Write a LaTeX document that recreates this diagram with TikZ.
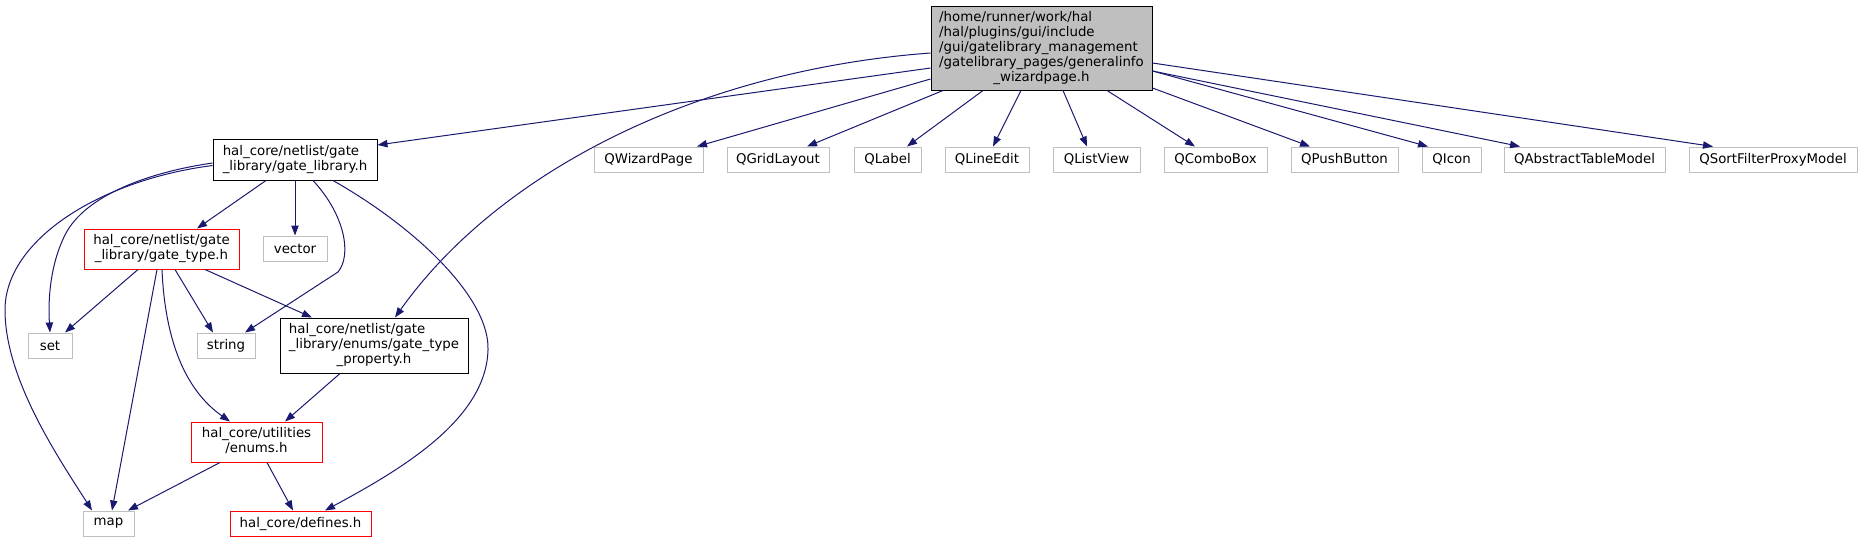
\documentclass[tikz,border=0pt]{standalone}
\usepackage{fontspec}
\setmainfont{DejaVu Sans}
\usetikzlibrary{arrows.meta,calc}

\definecolor{edgeblue}{HTML}{191970}
\definecolor{boxgray}{HTML}{BFBFBF}
\newcommand{\flines}[1]{\begin{tabular}{@{}l@{}}#1\end{tabular}}
\newcommand{\lastline}[1]{\multicolumn{1}{@{}c@{}}{#1}}

\tikzset{
  filebox/.style={draw=black, fill=white, line width=0.75pt, inner sep=0pt,
    font=\fontsize{10}{11.25}\selectfont},
  sysbox/.style={filebox, draw=boxgray},
  redbox/.style={filebox, draw=red},
  boxsize/.style 2 args={minimum width=#1*0.75pt, minimum height=#2*0.75pt},
  dep/.style={edgeblue, line width=0.75pt, -{Triangle[length=7.5pt,width=5.5pt]}}
}

\begin{document}
\begin{tikzpicture}[x=0.75pt, y=-0.75pt]
  \useasboundingbox (0,0) rectangle (1862,543);
  % draw the file boxes
  \node[filebox, fill=boxgray, boxsize={221}{84}] (main) at (1041.5,48) {\flines{/home/runner/work/hal\\/hal/plugins/gui/include\\/gui/gatelibrary\_management\\/gatelibrary\_pages/generalinfo\\\lastline{\_wizardpage.h}}};
  \node[filebox, boxsize={164}{41}] (glib) at (295,159.5) {\flines{hal\_core/netlist/gate\\\lastline{\_library/gate\_library.h}}};
  \node[redbox, boxsize={155}{40}] (gtype) at (161.5,249) {\flines{hal\_core/netlist/gate\\\lastline{\_library/gate\_type.h}}};
  \node[filebox, boxsize={188}{55}] (gtprop) at (374,345.5) {\flines{hal\_core/netlist/gate\\\_library/enums/gate\_type\\\lastline{\_property.h}}};
  \node[redbox, boxsize={131}{40}] (enums) at (256.5,442) {\flines{hal\_core/utilities\\\lastline{/enums.h}}};
  \node[redbox, boxsize={141}{25}] (defines) at (300.5,523.5) {hal\_core/defines.h};
  % draw the system headers
  \node[sysbox, boxsize={64}{25}] (vector) at (295,248.5) {vector};
  \node[sysbox, boxsize={44}{25}] (set) at (50,345.5) {set};
  \node[sysbox, boxsize={58}{25}] (string) at (226,345.5) {string};
  \node[sysbox, boxsize={51}{25}] (map) at (108.5,523.5) {map};
  % draw the Qt headers
  \node[sysbox, boxsize={109}{25}] (qwiz) at (648.5,159.5) {QWizardPage};
  \node[sysbox, boxsize={102}{25}] (qgrid) at (778,159.5) {QGridLayout};
  \node[sysbox, boxsize={67}{25}] (qlabel) at (887.5,159.5) {QLabel};
  \node[sysbox, boxsize={84}{25}] (qlineedit) at (987,159.5) {QLineEdit};
  \node[sysbox, boxsize={87}{25}] (qlistview) at (1096.5,159.5) {QListView};
  \node[sysbox, boxsize={103}{25}] (qcombo) at (1215.5,159.5) {QComboBox};
  \node[sysbox, boxsize={107}{25}] (qpush) at (1344.5,159.5) {QPushButton};
  \node[sysbox, boxsize={59}{25}] (qicon) at (1451.5,159.5) {QIcon};
  \node[sysbox, boxsize={161}{25}] (qatm) at (1584.5,159.5) {QAbstractTableModel};
  \node[sysbox, boxsize={168}{25}] (qsfpm) at (1773,159.5) {QSortFilterProxyModel};
  % draw the include edges of the wizard page
  \draw[dep] ($(main.west)+(0,20)$) -- ($(glib.east)+(0,-14.5)$);
  \draw[dep] ($(main.west)+(0,5)$) .. controls (700,70) and (500,170) .. ($(gtprop.north)+(21,0)$);
  \draw[dep] ($(main.west)+(0,31)$) -- ($(qwiz.north)+(48.5,0)$);
  \draw[dep] ($(main.south)+(-98.5,0)$) -- ($(qgrid.north)+(29,0)$);
  \draw[dep] ($(main.south)+(-58.5,0)$) -- ($(qlabel.north)+(19.5,0)$);
  \draw[dep] ($(main.south)+(-20.5,0)$) -- ($(qlineedit.north)+(6,0)$);
  \draw[dep] ($(main.south)+(21.5,0)$) -- ($(qlistview.north)+(-9.5,0)$);
  \draw[dep] ($(main.south)+(65.5,0)$) -- ($(qcombo.north)+(-20.5,0)$);
  \draw[dep] ($(main.east)+(0,40)$) -- ($(qpush.north)+(-34.5,0)$);
  \draw[dep] ($(main.east)+(0,23)$) -- ($(qicon.north)+(-23.5,0)$);
  \draw[dep] ($(main.east)+(0,23)$) -- ($(qatm.north)+(-64.5,0)$);
  \draw[dep] ($(main.east)+(0,15)$) -- ($(qsfpm.north)+(-60,0)$);
  % draw the include edges of gate_library.h
  \draw[dep] ($(glib.south)+(-29,0)$) -- ($(gtype.north)+(35.5,0)$);
  \draw[dep] (glib.south) -- (vector.north);
  \draw[dep] ($(glib.south)+(18,0)$) .. controls (345,215) and (352,255) .. (338,272) -- ($(string.north)+(19,0)$);
  \draw[dep] ($(glib.west)+(0,3.5)$) .. controls (150,172) and (85,195) .. (65,235) .. controls (50,265) and (48,300) .. (set.north);
  \draw[dep] ($(glib.west)+(0,6)$) .. controls (100,180) and (5,240) .. (5,310) .. controls (5,380) and (60,460) .. ($(map.north)+(-16.5,0)$);
  \draw[dep] ($(glib.south)+(38,0)$) .. controls (420,230) and (490,300) .. (488,350) .. controls (486,420) and (400,470) .. ($(defines.north)+(24.5,0)$);
  % draw the include edges of gate_type.h
  \draw[dep] ($(gtype.south)+(-23.5,0)$) -- ($(set.north)+(15,0)$);
  \draw[dep] ($(gtype.south)+(-4.5,0)$) -- ($(map.north)+(3.5,0)$);
  \draw[dep] ($(gtype.south)+(0.5,0)$) .. controls (165,340) and (185,390) .. ($(enums.north)+(-26.5,0)$);
  \draw[dep] ($(gtype.south)+(13.5,0)$) -- ($(string.north)+(-13,0)$);
  \draw[dep] ($(gtype.south)+(43.5,0)$) -- ($(gtprop.north)+(-62,0)$);
  % draw the remaining edges
  \draw[dep] ($(gtprop.south)+(-34,0)$) -- ($(enums.north)+(28.5,0)$);
  \draw[dep] ($(enums.south)+(-36.5,0)$) -- ($(map.north)+(19.5,0)$);
  \draw[dep] ($(enums.south)+(10.5,0)$) -- ($(defines.north)+(-7.5,0)$);
\end{tikzpicture}
\end{document}
